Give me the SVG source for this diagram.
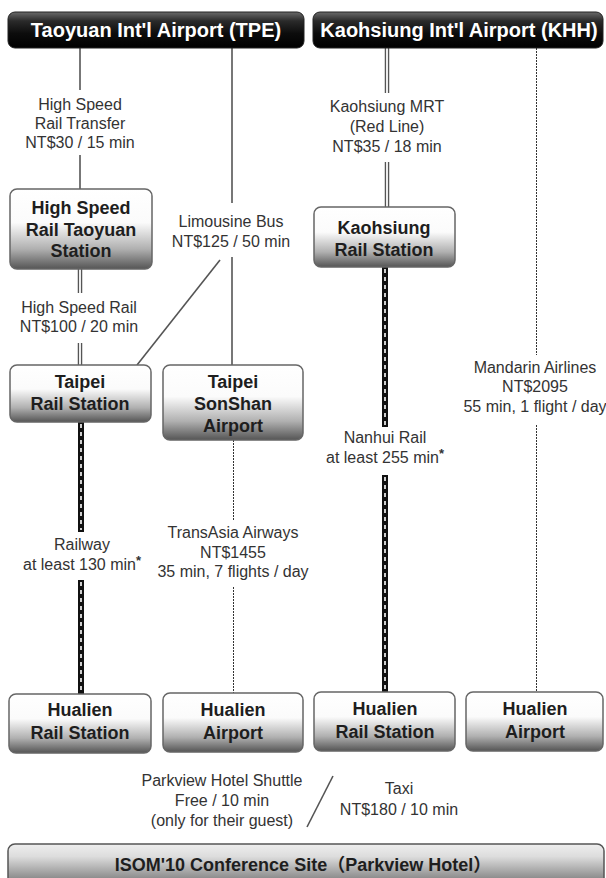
<svg xmlns="http://www.w3.org/2000/svg" width="606" height="878" viewBox="0 0 606 878">
<defs>
<linearGradient id="gBox" x1="0" y1="0" x2="0" y2="1">
<stop offset="0" stop-color="#ffffff"/>
<stop offset="0.42" stop-color="#fbfbfb"/>
<stop offset="0.75" stop-color="#b0b0b0"/>
<stop offset="1" stop-color="#555555"/>
</linearGradient>
<linearGradient id="gHdr" x1="0" y1="0" x2="0" y2="1">
<stop offset="0" stop-color="#6a6a6a"/>
<stop offset="0.25" stop-color="#2a2a2a"/>
<stop offset="0.6" stop-color="#0c0c0c"/>
<stop offset="1" stop-color="#000000"/>
</linearGradient>
<linearGradient id="gConf" x1="0" y1="0" x2="0" y2="1">
<stop offset="0" stop-color="#eeeeee"/>
<stop offset="0.25" stop-color="#dddddd"/>
<stop offset="0.7" stop-color="#8a8a8a"/>
<stop offset="1" stop-color="#5a5a5a"/>
</linearGradient>
</defs>
<style>
.hdr{fill:url(#gHdr);stroke:#222;stroke-width:1}
.hdrt{font-family:"Liberation Sans",Arial,sans-serif;font-weight:bold;font-size:20px;fill:#ffffff;text-anchor:middle}
.box{fill:url(#gBox);stroke:#666;stroke-width:1.5}
.bt{font-family:"Liberation Sans",Arial,sans-serif;font-weight:bold;font-size:18px;fill:#1e1e1e;text-anchor:middle}
.lt{font-family:"Liberation Sans",Arial,sans-serif;font-size:16px;fill:#333;text-anchor:middle}
.ast{font-size:13px;font-weight:bold}
.single{stroke:#555;stroke-width:1.6;fill:none}
.dbl-o{stroke:#555;stroke-width:4.5;fill:none}
.dbl-i{stroke:#fff;stroke-width:1.8;fill:none}
.rail-o{stroke:#111;stroke-width:6;fill:none}
.rail-i{stroke:#fff;stroke-width:1.6;stroke-dasharray:4 4;fill:none}
.dot{stroke:#333;stroke-width:1;stroke-dasharray:2 1;fill:none}
.conf{fill:url(#gConf);stroke:#555;stroke-width:1.5}
.conft{font-family:"Liberation Sans",Arial,"Noto Sans CJK SC",sans-serif;font-weight:bold;font-size:18px;fill:#1e1e1e;text-anchor:middle}
</style>

<g id="connectors">
<line class="single" x1="80" y1="48" x2="80" y2="90"/>
<line class="single" x1="80" y1="155" x2="80" y2="189"/>
<line class="dbl-o" x1="80" y1="269" x2="80" y2="293"/>
<line class="dbl-i" x1="80" y1="269" x2="80" y2="293"/>
<line class="dbl-o" x1="80" y1="343" x2="80" y2="365"/>
<line class="dbl-i" x1="80" y1="343" x2="80" y2="365"/>
<line class="single" x1="232" y1="48" x2="232" y2="203"/>
<line class="single" x1="232" y1="257" x2="232" y2="365"/>
<line class="single" x1="220" y1="260" x2="137" y2="365"/>
<line class="rail-o" x1="81" y1="422" x2="81" y2="532"/>
<line class="rail-i" x1="81" y1="424" x2="81" y2="530"/>
<line class="rail-o" x1="81" y1="580" x2="81" y2="694"/>
<line class="rail-i" x1="81" y1="582" x2="81" y2="692"/>
<line class="dot" x1="233.5" y1="440" x2="233.5" y2="520"/>
<line class="dot" x1="233.5" y1="587" x2="233.5" y2="693"/>
<line class="dbl-o" x1="387" y1="48" x2="387" y2="93"/>
<line class="dbl-i" x1="387" y1="48" x2="387" y2="93"/>
<line class="dbl-o" x1="387" y1="162" x2="387" y2="207"/>
<line class="dbl-i" x1="387" y1="162" x2="387" y2="207"/>
<line class="rail-o" x1="385" y1="267" x2="385" y2="427"/>
<line class="rail-i" x1="385" y1="269" x2="385" y2="425"/>
<line class="rail-o" x1="385" y1="475" x2="385" y2="692"/>
<line class="rail-i" x1="385" y1="477" x2="385" y2="690"/>
<line class="dot" x1="536.5" y1="48" x2="536.5" y2="355"/>
<line class="dot" x1="536.5" y1="425" x2="536.5" y2="692"/>
<line class="single" x1="333" y1="776" x2="307" y2="827"/>
</g>

<g id="labels">
<text class="lt" x="80" y="110">High Speed</text>
<text class="lt" x="80" y="129">Rail Transfer</text>
<text class="lt" x="80" y="148">NT$30 / 15 min</text>
<text class="lt" x="79" y="313">High Speed Rail</text>
<text class="lt" x="79" y="332">NT$100 / 20 min</text>
<text class="lt" x="231" y="227">Limousine Bus</text>
<text class="lt" x="231" y="247">NT$125 / 50 min</text>
<text class="lt" x="82" y="550">Railway</text>
<text class="lt" x="82" y="570">at least 130 min<tspan class="ast" dy="-5">*</tspan></text>
<text class="lt" x="233" y="538">TransAsia Airways</text>
<text class="lt" x="233" y="558">NT$1455</text>
<text class="lt" x="233" y="577">35 min, 7 flights / day</text>
<text class="lt" x="387" y="112">Kaohsiung MRT</text>
<text class="lt" x="387" y="132">(Red Line)</text>
<text class="lt" x="387" y="152">NT$35 / 18 min</text>
<text class="lt" x="385" y="443">Nanhui Rail</text>
<text class="lt" x="385" y="463">at least 255 min<tspan class="ast" dy="-5">*</tspan></text>
<text class="lt" x="535" y="373">Mandarin Airlines</text>
<text class="lt" x="535" y="392">NT$2095</text>
<text class="lt" x="535" y="412">55 min, 1 flight / day</text>
<text class="lt" x="222" y="786">Parkview Hotel Shuttle</text>
<text class="lt" x="222" y="806">Free / 10 min</text>
<text class="lt" x="222" y="826">(only for their guest)</text>
<text class="lt" x="399" y="794">Taxi</text>
<text class="lt" x="399" y="815">NT$180 / 10 min</text>
</g>

<g id="tpe">
<rect class="hdr" x="8" y="12" width="296" height="36" rx="7"/>
<text class="hdrt" x="156" y="37">Taoyuan Int'l Airport (TPE)</text>
</g>
<g id="khh">
<rect class="hdr" x="313" y="12" width="290" height="36" rx="7"/>
<text class="hdrt" x="459" y="37">Kaohsiung Int'l Airport (KHH)</text>
</g>

<g id="hsr-taoyuan">
<rect class="box" x="10" y="189" width="142" height="80" rx="7"/>
<text class="bt" x="81" y="214">High Speed</text>
<text class="bt" x="81" y="236">Rail Taoyuan</text>
<text class="bt" x="81" y="257">Station</text>
</g>
<g id="taipei-rail">
<rect class="box" x="10" y="365" width="141" height="57" rx="7"/>
<text class="bt" x="80" y="388">Taipei</text>
<text class="bt" x="80" y="410">Rail Station</text>
</g>
<g id="taipei-songshan">
<rect class="box" x="163" y="365" width="140" height="75" rx="7"/>
<text class="bt" x="233" y="388">Taipei</text>
<text class="bt" x="233" y="410">SonShan</text>
<text class="bt" x="233" y="432">Airport</text>
</g>
<g id="kaohsiung-rail">
<rect class="box" x="314" y="207" width="141" height="60" rx="7"/>
<text class="bt" x="384" y="234">Kaohsiung</text>
<text class="bt" x="384" y="256">Rail Station</text>
</g>
<g id="hualien-rail-1">
<rect class="box" x="9" y="694" width="142" height="59" rx="7"/>
<text class="bt" x="80" y="716">Hualien</text>
<text class="bt" x="80" y="739">Rail Station</text>
</g>
<g id="hualien-airport-1">
<rect class="box" x="163" y="693" width="140" height="59" rx="7"/>
<text class="bt" x="233" y="716">Hualien</text>
<text class="bt" x="233" y="739">Airport</text>
</g>
<g id="hualien-rail-2">
<rect class="box" x="314" y="692" width="141" height="59" rx="7"/>
<text class="bt" x="385" y="715">Hualien</text>
<text class="bt" x="385" y="738">Rail Station</text>
</g>
<g id="hualien-airport-2">
<rect class="box" x="466" y="692" width="137" height="59" rx="7"/>
<text class="bt" x="535" y="715">Hualien</text>
<text class="bt" x="535" y="738">Airport</text>
</g>
<g id="conference">
<rect class="conf" x="8" y="844" width="596" height="50" rx="7"/>
<text class="conft" x="303" y="871">ISOM'10 Conference Site（Parkview Hotel）</text>
</g>
</svg>
